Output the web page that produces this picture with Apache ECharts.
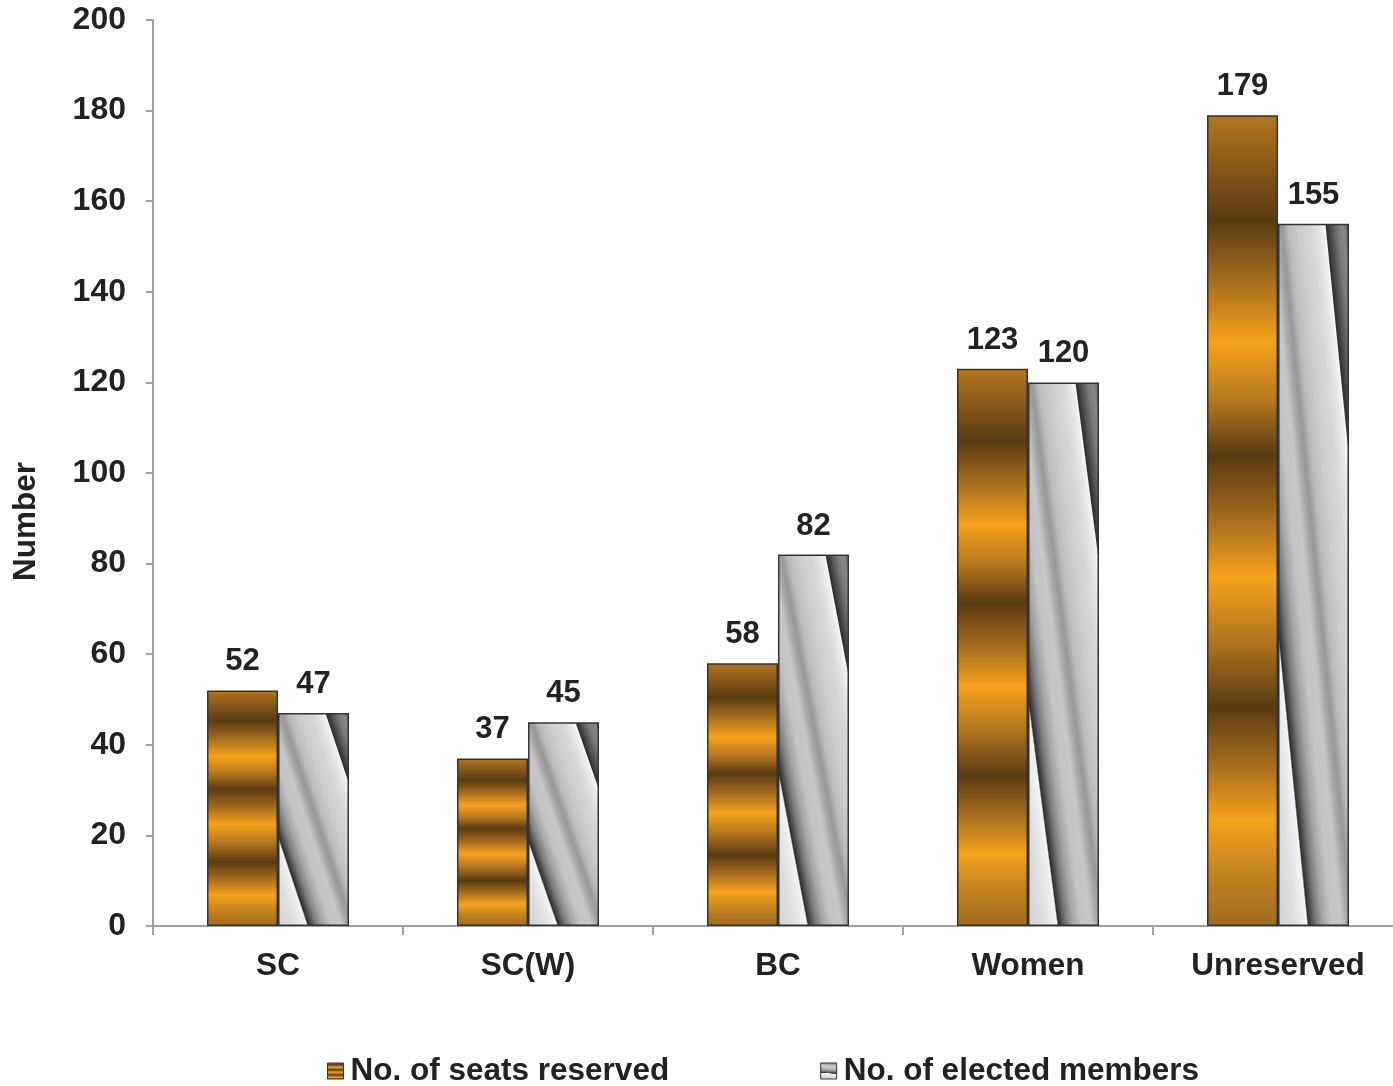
<!DOCTYPE html>
<html>
<head>
<meta charset="utf-8">
<script src="https://cdn.jsdelivr.net/npm/echarts@6/dist/echarts.min.js"></script>
<style>
html,body{margin:0;padding:0;background:#fff;}
#chart{width:1393px;height:1086px;}
</style>
</head>
<body>
<div id="chart"></div>
<script>
const categories = ['SC', 'SC(W)', 'BC', 'Women', 'Unreserved'];
const seatsReserved = [52, 37, 58, 123, 179];
const electedMembers = [47, 45, 82, 120, 155];
const seriesNames = ['No. of seats reserved', 'No. of elected members'];
const yTicks = {min: 0, max: 200, interval: 20};

const FONT = '"Liberation Sans", Arial, sans-serif';
const BAR_W = 71;
const PX_PER_UNIT = 906 / 200;

const orangeStops = [
  [0, '#b4761f'], [0.06, '#8a5a1a'], [0.13, '#5a3a12'], [0.2, '#a06a1e'],
  [0.28, '#f6a21c'], [0.35, '#b8781f'], [0.42, '#5a3a12'], [0.5, '#a86d1e'],
  [0.57, '#f6a21c'], [0.65, '#b0741f'], [0.73, '#5a3a12'], [0.8, '#a56c1e'],
  [0.87, '#f6a21c'], [0.94, '#c08020'], [1, '#a06a1e']
].map(([offset, color]) => ({offset, color}));

const greyStops = [
  [0, '#d2d2d2'], [0.12, '#e0e0e0'], [0.205, '#f4f4f4'], [0.215, '#2e2e2e'],
  [0.235, '#4a4a4a'], [0.27, '#7a7a7a'], [0.32, '#a6a6a6'], [0.38, '#c4c4c4'],
  [0.45, '#c6c6c6'], [0.49, '#a8a8a8'], [0.525, '#989898'], [0.57, '#bababa'],
  [0.64, '#cccccc'], [0.74, '#d8d8d8'], [0.815, '#eeeeee'], [0.83, '#fafafa'],
  [0.838, '#2e2e2e'], [0.87, '#4e4e4e'], [0.92, '#7a7a7a'], [0.96, '#888888'],
  [1, '#555555']
].map(([offset, color]) => ({offset, color}));

const orangeGrad = {type: 'linear', x: 0, y: 0, x2: 0, y2: 1, colorStops: orangeStops};

function greyGrad(value) {
  const h = Math.max(value * PX_PER_UNIT, 1);
  const k = (BAR_W * BAR_W) / (h * h);
  const c = 2 / (1 + k);
  return {type: 'linear', x: 0, y: 1, x2: c, y2: 1 - c * k, colorStops: greyStops};
}

const chart = echarts.init(document.getElementById('chart'), null, {renderer: 'canvas'});
const labelStyle = {
  show: true, position: 'top', distance: 13,
  fontFamily: FONT, fontWeight: 'bold', fontSize: 31, color: '#222'
};
chart.setOption({
  backgroundColor: '#fff',
  animation: false,
  grid: {left: 153, top: 20, bottom: 160, width: 1250, containLabel: false, outerBoundsMode: 'none'},
  legend: {
    left: 327, top: 1055, padding: 0,
    itemWidth: 16, itemHeight: 16, itemGap: 151,
    textStyle: {fontFamily: FONT, fontWeight: 'bold', fontSize: 31.5, color: '#222', padding: [0, 0, 0, 2]},
    data: [
      {name: seriesNames[0], icon: 'rect', itemStyle: {color: orangeGrad, borderColor: '#333', borderWidth: 1}},
      {name: seriesNames[1], icon: 'rect', itemStyle: {color: greyGrad(4), borderColor: '#333', borderWidth: 1}}
    ]
  },
  graphic: [{
    type: 'text', left: 10, top: 462, rotation: Math.PI / 2,
    style: {text: 'Number', font: 'bold 31.5px ' + FONT, fill: '#222'}
  }],
  xAxis: {
    type: 'category',
    data: categories,
    axisLine: {lineStyle: {color: '#a0a0a0', width: 2}},
    axisTick: {show: true, length: 9, lineStyle: {color: '#a0a0a0', width: 2}},
    axisLabel: {fontFamily: FONT, fontWeight: 'bold', fontSize: 31.5, color: '#222', margin: 24}
  },
  yAxis: {
    type: 'value',
    min: yTicks.min, max: yTicks.max, interval: yTicks.interval,
    axisLine: {show: true, lineStyle: {color: '#a0a0a0', width: 2}},
    axisTick: {show: true, length: 7, lineStyle: {color: '#a0a0a0', width: 2}},
    splitLine: {show: false},
    axisLabel: {fontFamily: FONT, fontWeight: 'bold', fontSize: 32, color: '#222', margin: 27}
  },
  series: [
    {
      name: seriesNames[0], type: 'bar', data: seatsReserved,
      barWidth: BAR_W, barGap: '0%',
      itemStyle: {color: orangeGrad, borderColor: '#333', borderWidth: 1.5},
      label: labelStyle
    },
    {
      name: seriesNames[1], type: 'bar', data: electedMembers,
      barWidth: BAR_W, barGap: '0%',
      itemStyle: {color: (p) => greyGrad(p.value), borderColor: '#333', borderWidth: 1.5},
      label: labelStyle
    }
  ]
});
</script>
</body>
</html>
